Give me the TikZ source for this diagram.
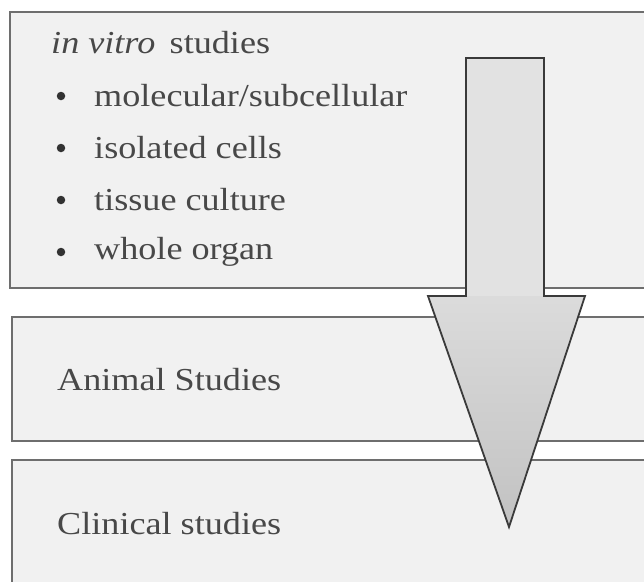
\documentclass[tikz,border=0pt]{standalone}
\usepackage{fontspec}
\setmainfont[FakeStretch=1.13]{Liberation Serif}
\definecolor{boxline}{HTML}{6E6E6E}
\definecolor{boxfill}{HTML}{F1F1F1}
\definecolor{txt}{HTML}{484848}
\definecolor{arrline}{HTML}{3A3A3A}
\definecolor{shaftfill}{HTML}{E2E2E2}
\tikzset{
  panel/.style={draw=boxline, fill=boxfill, line width=1.3pt},
  lbl/.style={anchor=west, inner sep=0pt, text=txt, font=\fontsize{32}{36}\selectfont},
  dot/.style={circle, fill=txt!70!black, inner sep=0pt, minimum size=8.5pt}
}
\begin{document}
\begin{tikzpicture}[x=1pt,y=-1pt]
\useasboundingbox (0,0) rectangle (644,581);
% panels
\draw[panel] (10,12) rectangle (660,288);
\draw[panel] (12,317) rectangle (660,441);
\draw[panel] (12,460) rectangle (660,600);
% texts
\node[lbl] (invitro) at (51,43) {\textit{in vitro}\, studies};
\node[dot] (b1) at (61,96) {};
\node[lbl] (t1) at (94,96) {molecular/subcellular};
\node[dot] (b2) at (61,148) {};
\node[lbl] (t2) at (94,148) {isolated cells};
\node[dot] (b3) at (61,200) {};
\node[lbl] (t3) at (94,200) {tissue culture};
\node[dot] (b4) at (61,252) {};
\node[lbl] (t4) at (94,252) {whole organ};
\node[lbl] (animal) at (57,380) {Animal Studies};
\node[lbl] (clinical) at (57,524) {Clinical studies};
% arrow
\fill[shaftfill] (466,58) rectangle (544,297);
\fill[top color=gray!28, bottom color=gray!48] (428,296) -- (585,296) -- (509,527) -- cycle;
\draw[draw=arrline, line width=1.8pt, line join=miter]
  (466,58) -- (544,58) -- (544,296) -- (585,296) -- (509,527) -- (428,296) -- (466,296) -- cycle;
\end{tikzpicture}
\end{document}
